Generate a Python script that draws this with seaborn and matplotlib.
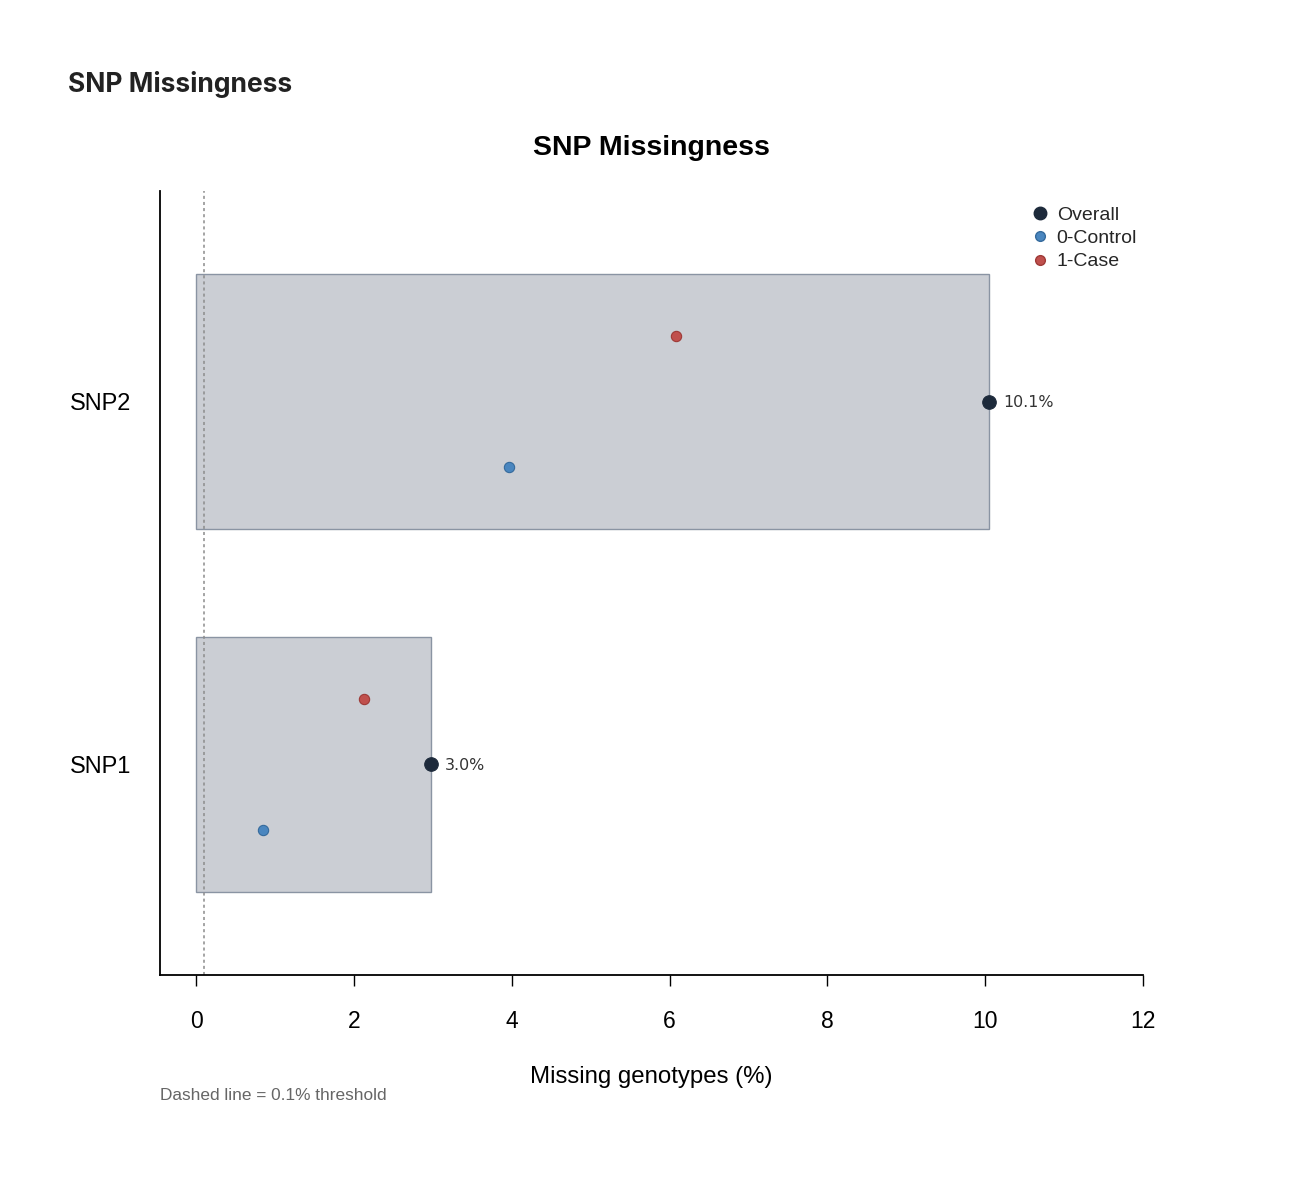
import matplotlib
matplotlib.use("Agg")
import matplotlib.pyplot as plt
from matplotlib.lines import Line2D
import seaborn as sns
import pandas as pd
import numpy as np

snps = ["SNP2", "SNP1"]
overall = [10.05, 2.97]
control = [3.96, 0.84]
case = [6.08, 2.12]
threshold = 0.1
xticks = [0, 2, 4, 6, 8, 10, 12]

sns.set_theme(style="white")
plt.rcParams['font.family'] = ['Liberation Sans', 'DejaVu Sans']

C_OVERALL = "#1d2a3b"
C_CONTROL = "#4a86bf"
C_CASE = "#c0504d"
C_BAR = "#cbced4"
C_EDGE = "#8a94a3"

fig = plt.figure(figsize=(13.1, 11.88), dpi=100)
ax = fig.add_axes([160/1310, 1-975/1188, (1143-160)/1310, (975-191)/1188])

df = pd.DataFrame({"snp": snps, "overall": overall, "control": control, "case": case})
sns.barplot(data=df, x="overall", y="snp", order=snps, orient="h", width=0.7,
            color=C_BAR, saturation=1, edgecolor=C_EDGE, linewidth=1, ax=ax)

idx = np.arange(len(snps))
sns.scatterplot(x=df["case"], y=idx - 0.18, color=C_CASE, s=55, edgecolor="#9e3a37",
                linewidth=0.8, ax=ax, zorder=4)
sns.scatterplot(x=df["control"], y=idx + 0.18, color=C_CONTROL, s=55, edgecolor="#356a9c",
                linewidth=0.8, ax=ax, zorder=4)
sns.scatterplot(x=df["overall"], y=idx, color=C_OVERALL, s=95, edgecolor=C_OVERALL,
                linewidth=0.8, ax=ax, zorder=5)

for i, v in enumerate(overall):
    ax.annotate(f"{v:.1f}%", (v, i), xytext=(10, -1), textcoords="offset points",
                va="center", ha="left", fontsize=11.4, color="#333333",
                family=['DejaVu Sans'])

ax.axvline(threshold, color="#8c8c8c", linestyle=(0, (2, 2)), linewidth=1.1, zorder=1)

ax.set_xlim(-0.46, 12)
ax.set_ylim(1.58, -0.58)
ax.set_xticks(xticks)
ax.set_xticklabels([str(t) for t in xticks])
ax.tick_params(axis="x", length=8, width=1, color="black", direction="out", pad=17,
               labelsize=16.5, bottom=True, labelcolor="black")
ax.tick_params(axis="y", length=0, pad=21, labelsize=17, labelcolor="black")
for side in ["top", "right"]:
    ax.spines[side].set_visible(False)
for side in ["left", "bottom"]:
    ax.spines[side].set_color("black")
    ax.spines[side].set_linewidth(1.3)

ax.set_xlabel("Missing genotypes (%)", fontsize=17.3, labelpad=24, color="black")
ax.set_ylabel("")
ax.set_title("SNP Missingness", fontsize=20.5, fontweight="bold", pad=26, color="black")

handles = [
    Line2D([], [], marker="o", linestyle="", color=C_OVERALL, markersize=9),
    Line2D([], [], marker="o", linestyle="", color=C_CONTROL, markeredgecolor="#356a9c", markersize=7),
    Line2D([], [], marker="o", linestyle="", color=C_CASE, markeredgecolor="#9e3a37", markersize=7),
]
ax.legend(handles, ["Overall", "0-Control", "1-Case"], loc="upper left",
          bbox_to_anchor=(1032/1310, 1-206/1188), bbox_transform=fig.transFigure,
          frameon=False, fontsize=14, handletextpad=0.47, labelspacing=0.3,
          borderaxespad=0, borderpad=0, handlelength=0.8)

fig.text(68/1310, 1-84/1188, "SNP Missingness", fontsize=19, fontweight="bold",
         color="#222222", va="center", ha="left", family=['Inter', 'DejaVu Sans'])
fig.text(160/1310, 1-1096/1188, "Dashed line = 0.1% threshold", fontsize=12.4,
         color="#666666", va="center", ha="left")

fig.savefig("out.png", dpi=100)
